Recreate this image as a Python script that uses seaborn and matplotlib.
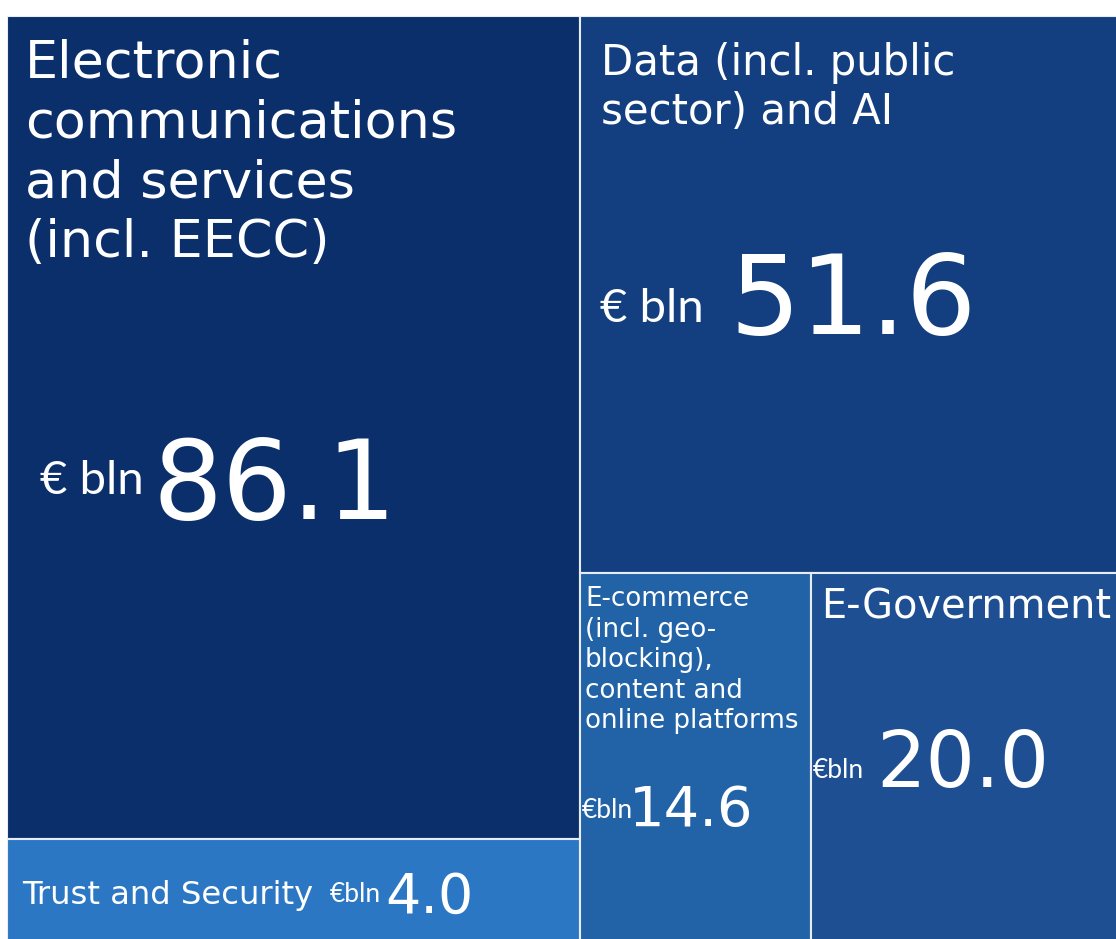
import matplotlib
matplotlib.use("Agg")
import matplotlib.pyplot as plt
import seaborn as sns
from matplotlib.patches import Rectangle

# tree data: two columns of tiles
labels = [
    "Electronic\ncommunications\nand services\n(incl. EECC)",
    "Trust and Security",
    "Data (incl. public\nsector) and AI",
    "E-commerce\n(incl. geo-\nblocking),\ncontent and\nonline platforms",
    "E-Government",
]
values = [86.1, 4.0, 51.6, 14.6, 20.0]
column = [0, 0, 1, 1, 1]
# row inside the column (tiles sharing a row are split side by side)
row = [0, 1, 0, 1, 1]
colors = ["#0a2f6b", "#2c77c4", "#133f80", "#2263a8", "#1d4f92"]

# style per tile: offsets in pixels from the tile's top-left corner
styles = [
    dict(lab=(18, 22), lab_fs=37.7, lab_ls=1.26, lab_va="top", unit=(33, 478), unit_fs=34, unit_txt="€ bln", num=(146, 503), num_fs=79),
    dict(lab=(15, 65), lab_fs=23.2, lab_ls=1.2, lab_va="baseline", unit=(323, 63), unit_fs=19, unit_txt="€bln", num=(378, 73), num_fs=40),
    dict(lab=(21, 26), lab_fs=30.2, lab_ls=1.2, lab_va="top", unit=(20, 306), unit_fs=34, unit_txt="€ bln", num=(150, 318), num_fs=80),
    dict(lab=(5, 13), lab_fs=18.8, lab_ls=1.22, lab_va="top", unit=(2, 245), unit_fs=19, unit_txt="€bln", num=(49, 253), num_fs=40.3),
    dict(lab=(10, 14), lab_fs=28.7, lab_ls=1.2, lab_va="top", unit=(2, 205), unit_fs=19, unit_txt="€bln", num=(65, 214), num_fs=56),
]

MIN_SHARE = 0.125  # smallest tiles get at least this share of a column


def layout(values, column, row):
    """slice-and-dice: columns by sum, rows by sum, tiles in a row by value"""
    total = sum(values)
    rects = [None] * len(values)
    x = 0.0
    for c in sorted(set(column)):
        idx = [i for i in range(len(values)) if column[i] == c]
        w = sum(values[i] for i in idx) / total
        rows = sorted(set(row[i] for i in idx))
        csum = sum(values[i] for i in idx)
        shares = [sum(values[i] for i in idx if row[i] == r) / csum for r in rows]
        shares = [max(s, MIN_SHARE) for s in shares]
        shares = [s / sum(shares) for s in shares]
        y = 0.0
        for r, h in zip(rows, shares):
            ridx = [i for i in idx if row[i] == r]
            rsum = sum(values[i] for i in ridx)
            xx = x
            for i in ridx:
                ww = w * values[i] / rsum
                rects[i] = (xx, y, ww, h)
                xx += ww
            y += h
        x += w
    return rects


sns.set_theme(style="white")
W, H, DPI = 1116, 939, 100
fig = plt.figure(figsize=(W / DPI, H / DPI), dpi=DPI)
fig.patch.set_facecolor("white")

# treemap canvas in pixels (runs a bit past the right/bottom edge)
cx0, cy0, cw, ch = 7, 16, 1121, 931
ax = fig.add_axes([cx0 / W, (H - cy0 - ch) / H, cw / W, ch / H])
ax.set_xlim(0, 1)
ax.set_ylim(1, 0)
ax.set_axis_off()

unit_font = ["Lato", "DejaVu Sans"]

rects = layout(values, column, row)
for (x, y, w, h), lab, val, col, st in zip(rects, labels, values, colors, styles):
    ax.add_patch(Rectangle((x, y), w, h, facecolor=col, edgecolor="#e6edf5", linewidth=1.5))
    px = cx0 + x * cw
    py = cy0 + y * ch

    def put(txt, off, fs, va, family, ls=1.2):
        fig.text((px + off[0]) / W, 1 - (py + off[1]) / H, txt, color="white",
                 fontsize=fs, ha="left", va=va, family=family, linespacing=ls)

    put(lab, st["lab"], st["lab_fs"], st["lab_va"], ["DejaVu Sans"], st["lab_ls"])
    put(st["unit_txt"], st["unit"], st["unit_fs"], "baseline", unit_font)
    put(f"{val:.1f}", st["num"], st["num_fs"], "baseline", ["DejaVu Sans"])

fig.savefig("out.png", dpi=DPI)
